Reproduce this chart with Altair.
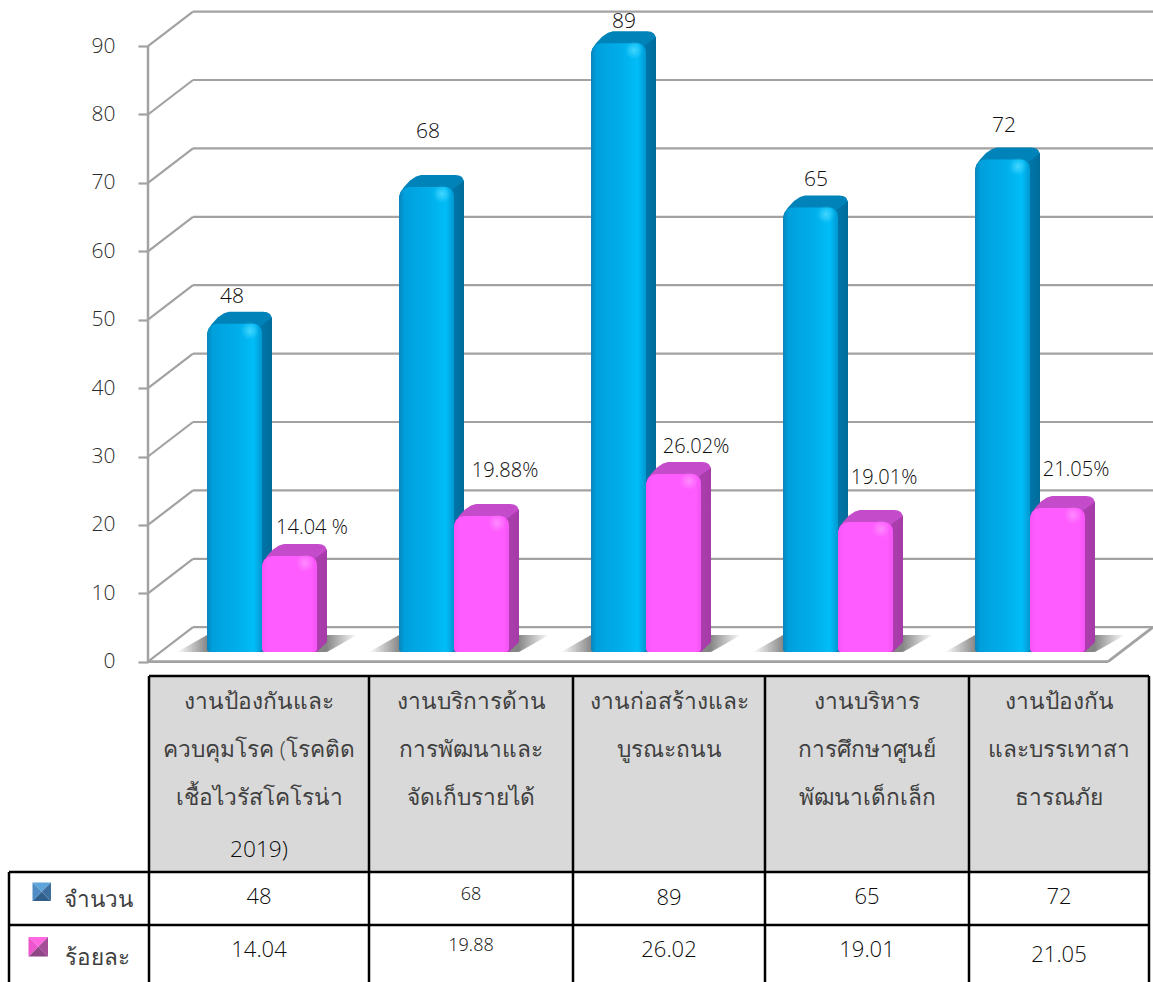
import altair as alt
import pandas as pd

# ---- values -------------------------------------------------------------
header_lines = [
    ["งานป้องกันและ", "ควบคุมโรค (โรคติด", "เชื้อไวรัสโคโรน่า", "2019)"],
    ["งานบริการด้าน", "การพัฒนาและ", "จัดเก็บรายได้"],
    ["งานก่อสร้างและ", "บูรณะถนน"],
    ["งานบริหาร", "การศึกษาศูนย์", "พัฒนาเด็กเล็ก"],
    ["งานป้องกัน", "และบรรเทาสา", "ธารณภัย"],
]
series_names = ["จำนวน", "ร้อยละ"]
counts = [48, 68, 89, 65, 72]
percents = [14.04, 19.88, 26.02, 19.01, 21.05]
count_labels = ["48", "68", "89", "65", "72"]
percent_labels = ["14.04 %", "19.88%", "26.02%", "19.01%", "21.05%"]
percent_cells = ["14.04", "19.88", "26.02", "19.01", "21.05"]
axis_ticks = [0, 10, 20, 30, 40, 50, 60, 70, 80, 90]

# ---- layout -------------------------------------------------------------
W, H = 1153, 982
SLOT_PX = 192        # width of one category on the floor
UNIT_PX = 6.84       # pixels per value unit
AXIS_X = 148
ZERO_Y = 661.7
FONT = "Open Sans"
WEIGHT = 300
GRID = "#a2a2a2"
THAI_INK = "#404040"
DIGIT_INK = "#0c0c0c"


def ux(px):
    return px / SLOT_PX


def uy(px):
    return px / UNIT_PX


x_scale = alt.Scale(domain=[ux(-AXIS_X), ux(W - AXIS_X)], nice=False, zero=False)
y_scale = alt.Scale(domain=[uy(ZERO_Y - H), uy(ZERO_Y)], nice=False, zero=False)
tx_scale = alt.Scale(domain=[0, W], nice=False, zero=False)
ty_scale = alt.Scale(domain=[H, 0], nice=False, zero=False)

WALL_DX, WALL_DY = ux(45), uy(34.5)
BASE = uy(9.7)
BAR_W = 55
BAR_D = 10

X = lambda f, **k: alt.X(f, type="quantitative", scale=x_scale, axis=None, **k)
Y = lambda f, **k: alt.Y(f, type="quantitative", scale=y_scale, axis=None, **k)
TX = lambda f: alt.X(f, type="quantitative", scale=tx_scale, axis=None)
TY = lambda f: alt.Y(f, type="quantitative", scale=ty_scale, axis=None)


def h_gradient(stops):
    return alt.Gradient(
        gradient="linear", x1=0, x2=1, y1=0, y2=0,
        stops=[alt.GradientStop(offset=o, color=c) for o, c in stops],
    )


def glow(color):
    return alt.Gradient(
        gradient="radial", x1=0.5, y1=0.5, x2=0.5, y2=0.5, r1=0, r2=0.5,
        stops=[
            alt.GradientStop(offset=0, color=f"rgba({color},0.95)"),
            alt.GradientStop(offset=1, color=f"rgba({color},0)"),
        ],
    )


# ---- wall, floor and axis ----------------------------------------------
back_lines = pd.DataFrame({
    "x": [WALL_DX] * len(axis_ticks),
    "x2": [ux(W - AXIS_X)] * len(axis_ticks),
    "y": [v + WALL_DY for v in axis_ticks],
})
slants = pd.DataFrame({
    "x": [0.0] * len(axis_ticks),
    "x2": [WALL_DX] * len(axis_ticks),
    "y": [float(v) for v in axis_ticks],
    "y2": [v + WALL_DY for v in axis_ticks],
})
floor_edges = pd.DataFrame({
    "x": [0.0, 5.0],
    "x2": [5.0, 5.0 + WALL_DX],
    "y": [0.0, 0.0],
    "y2": [0.0, WALL_DY],
})

back_layer = alt.Chart(back_lines).mark_rule(color=GRID, strokeWidth=2.2).encode(
    x=X("x:Q"), x2="x2:Q", y=Y("y:Q"))
slant_layer = alt.Chart(slants).mark_rule(color=GRID, strokeWidth=2.2).encode(
    x=X("x:Q"), x2="x2:Q", y=Y("y:Q"), y2="y2:Q")
floor_layer = alt.Chart(floor_edges).mark_rule(color=GRID, strokeWidth=2.8).encode(
    x=X("x:Q"), x2="x2:Q", y=Y("y:Q"), y2="y2:Q")

axis_layer = alt.Chart(pd.DataFrame({"lo": [0], "hi": [90], "x": [0.0]})).mark_rule(
    color=GRID, strokeWidth=2.5
).encode(
    x=X("x:Q"),
    y=alt.Y(
        "lo:Q", scale=y_scale, title=None,
        axis=alt.Axis(
            values=axis_ticks, offset=-AXIS_X, domain=False, grid=False,
            tickColor=GRID, tickWidth=2.2, tickSize=10, labelPadding=23,
            labelFont=FONT, labelFontWeight=WEIGHT, labelFontSize=21, labelColor="#2c2c2c",
        ),
    ),
    y2="hi:Q",
)

# ---- floor shadows ------------------------------------------------------
rows = []
for i in range(len(counts)):
    x0 = i + ux(29)
    for px, up in [(0, 0), (30, 17), (150, 17), (180, 17)]:
        low = 0 if px < 180 else 17
        rows.append({"g": i, "x": x0 + ux(px), "lo": BASE + uy(low), "hi": BASE + uy(up)})
shadow_layer = alt.Chart(pd.DataFrame(rows)).mark_area(
    color=h_gradient([(0, "#ffffff"), (0.17, "#858585"), (0.83, "#858585"), (1, "#ffffff")])
).encode(x=X("x:Q"), y=Y("lo:Q"), y2="hi:Q", detail="g:N")


# ---- bars ----------------------------------------------------------------
def bar_layers(values, offset_px, cap, side, face, glow_rgb):
    left = [i + ux(offset_px) for i in range(len(values))]
    cap_outline = [(0, -11), (1.5, -5), (5, 0), (11, 6.5), (17, 10.5), (22, 12),
                   (56, 12), (60, 11.4), (63, 9.8), (65, 6)]
    cap_rows, side_rows, face_rows, glow_rows = [], [], [], []
    for i, (x0, v) in enumerate(zip(left, values)):
        top = v + BASE
        for px, up in cap_outline:
            cap_rows.append({"g": i, "x": x0 + ux(px), "lo": top - uy(11), "hi": top + uy(up)})
        side_rows.append({"g": i, "x": x0 + ux(BAR_W - 4), "lo": BASE, "hi": top - uy(4)})
        side_rows.append({"g": i, "x": x0 + ux(BAR_W), "lo": BASE, "hi": top - uy(1)})
        side_rows.append({"g": i, "x": x0 + ux(BAR_W + BAR_D), "lo": BASE + uy(BAR_D), "hi": top + uy(6)})
        face_rows.append({"x": x0, "x2": x0 + ux(BAR_W), "y": BASE, "y2": top})
        glow_rows.append({"x": x0 + ux(34), "x2": x0 + ux(52), "y": top - uy(16), "y2": top + uy(2)})
    return [
        alt.Chart(pd.DataFrame(cap_rows)).mark_area(color=cap).encode(
            x=X("x:Q"), y=Y("lo:Q"), y2="hi:Q", detail="g:N"),
        alt.Chart(pd.DataFrame(side_rows)).mark_area(color=h_gradient(side)).encode(
            x=X("x:Q"), y=Y("lo:Q"), y2="hi:Q", detail="g:N"),
        alt.Chart(pd.DataFrame(face_rows)).mark_rect(
            color=h_gradient(face), cornerRadiusTopLeft=11, cornerRadiusTopRight=9,
            cornerRadiusBottomLeft=3, cornerRadiusBottomRight=3,
        ).encode(x=X("x:Q"), x2="x2:Q", y=Y("y:Q"), y2="y2:Q"),
        alt.Chart(pd.DataFrame(glow_rows)).mark_rect(color=glow(glow_rgb)).encode(
            x=X("x:Q"), x2="x2:Q", y=Y("y:Q"), y2="y2:Q"),
    ]


blue_layers = bar_layers(
    counts, 59, "#0083b8",
    [(0, "#0079ad"), (1, "#006c9b")],
    [(0, "#0a84bb"), (0.1, "#00a0dc"), (0.55, "#00aeea"), (0.85, "#00bdf7"), (1, "#0098d2")],
    "70,215,255",
)
pink_layers = bar_layers(
    percents, 114, "#c44ccb",
    [(0, "#ad3fb0"), (1, "#a53ba8")],
    [(0, "#f652f6"), (0.1, "#ff5cff"), (0.9, "#ff5cff"), (1, "#f455f4")],
    "255,140,255",
)

# ---- value labels above the bars ----------------------------------------
count_lift = [36, 64.6, 31, 37, 43]
count_dx = [84, 88, 92, 92, 88]
pct_lift = [37.7, 54.7, 36.7, 53.7, 47.7]
pct_dx = [164, 165, 164, 160, 160]
label_rows = []
for i in range(len(counts)):
    label_rows.append({"x": i + ux(count_dx[i]), "y": counts[i] + uy(count_lift[i]),
                       "t": count_labels[i], "s": 21})
    label_rows.append({"x": i + ux(pct_dx[i]), "y": percents[i] + uy(pct_lift[i]),
                       "t": percent_labels[i], "s": 20})
labels = pd.DataFrame(label_rows)
label_layer = alt.Chart(labels).mark_text(
    font=FONT, fontWeight=WEIGHT, color=DIGIT_INK, baseline="middle", align="center"
).encode(x=X("x:Q"), y=Y("y:Q"), text="t:N", size=alt.Size("s:Q", scale=None, legend=None))

# ---- table beneath the plot ---------------------------------------------
col_edges = [149, 369, 573, 765, 969, 1149]
row_edges = [676, 872, 925]
table_bottom = 982
row_head_x = 9

head_fill = alt.Chart(pd.DataFrame({
    "x": [col_edges[0]], "x2": [col_edges[-1]], "y": [row_edges[0]], "y2": [row_edges[1]],
})).mark_rect(color="#d9d9d9").encode(x=TX("x:Q"), x2="x2:Q", y=TY("y:Q"), y2="y2:Q")

v_rows = [{"x": c, "y": row_edges[0], "y2": table_bottom} for c in col_edges]
v_rows.append({"x": row_head_x, "y": row_edges[1], "y2": table_bottom})
h_rows = [{"x": col_edges[0], "x2": col_edges[-1], "y": row_edges[0]}]
h_rows += [{"x": row_head_x, "x2": col_edges[-1], "y": r} for r in row_edges[1:]]
v_lines = alt.Chart(pd.DataFrame(v_rows)).mark_rule(color="#000000", strokeWidth=2.5).encode(
    x=TX("x:Q"), y=TY("y:Q"), y2="y2:Q")
h_lines = alt.Chart(pd.DataFrame(h_rows)).mark_rule(color="#000000", strokeWidth=2.5).encode(
    x=TX("x:Q"), x2="x2:Q", y=TY("y:Q"))

line_y = [702, 750, 798, 850]
col_centers = [(a + b) / 2 for a, b in zip(col_edges, col_edges[1:])]
text_rows = []
for c, lines in zip(col_centers, header_lines):
    for n, line in enumerate(lines):
        ink = DIGIT_INK if line == "2019)" else THAI_INK
        text_rows.append({"x": c, "y": line_y[n], "t": line, "s": 22.7, "c": ink})
count_y = [897, 895, 898, 897, 897]
count_size = [22, 18, 22, 22, 22]
pct_y = [950, 946, 950, 950, 955]
pct_size = [22, 18, 22, 22, 22]
for i, c in enumerate(col_centers):
    text_rows.append({"x": c, "y": count_y[i], "t": count_labels[i], "s": count_size[i], "c": DIGIT_INK})
    text_rows.append({"x": c, "y": pct_y[i], "t": percent_cells[i], "s": pct_size[i], "c": DIGIT_INK})
text_rows.append({"x": 98, "y": 900, "t": series_names[0], "s": 22.5, "c": THAI_INK})
text_rows.append({"x": 97, "y": 958, "t": series_names[1], "s": 22.5, "c": THAI_INK})
table_text = alt.Chart(pd.DataFrame(text_rows)).mark_text(
    font=FONT, fontWeight=WEIGHT, baseline="middle", align="center"
).encode(
    x=TX("x:Q"), y=TY("y:Q"), text="t:N",
    size=alt.Size("s:Q", scale=None, legend=None),
    color=alt.Color("c:N", scale=None, legend=None),
)


# legend keys: small pyramids seen from above
def pyramid(g, x0, y0, s, top, left, right, bottom):
    m = s / 2
    out = []
    out += [{"g": f"{g}t", "c": top, "x": x0, "a": y0, "b": y0},
            {"g": f"{g}t", "c": top, "x": x0 + m, "a": y0, "b": y0 + m},
            {"g": f"{g}t", "c": top, "x": x0 + s, "a": y0, "b": y0}]
    out += [{"g": f"{g}b", "c": bottom, "x": x0, "a": y0 + s, "b": y0 + s},
            {"g": f"{g}b", "c": bottom, "x": x0 + m, "a": y0 + m, "b": y0 + s},
            {"g": f"{g}b", "c": bottom, "x": x0 + s, "a": y0 + s, "b": y0 + s}]
    out += [{"g": f"{g}l", "c": left, "x": x0, "a": y0, "b": y0 + s},
            {"g": f"{g}l", "c": left, "x": x0 + m, "a": y0 + m, "b": y0 + m}]
    out += [{"g": f"{g}r", "c": right, "x": x0 + m, "a": y0 + m, "b": y0 + m},
            {"g": f"{g}r", "c": right, "x": x0 + s, "a": y0, "b": y0 + s}]
    return out


key_rows = pyramid("a", 32.5, 882.5, 18.5, "#5fa5dc", "#4f8cc4", "#3c6e9e", "#2f5f8a")
key_rows += pyramid("b", 28.5, 937, 19.5, "#ff66e0", "#ec55cc", "#a64d98", "#8e4684")
key_layer = alt.Chart(pd.DataFrame(key_rows)).mark_area().encode(
    x=TX("x:Q"), y=TY("a:Q"), y2="b:Q", detail="g:N",
    color=alt.Color("c:N", scale=None, legend=None),
)

# ---- assembly -----------------------------------------------------------
chart = alt.layer(
    back_layer, slant_layer, floor_layer, axis_layer, shadow_layer,
    *blue_layers, *pink_layers, label_layer,
    head_fill, v_lines, h_lines, table_text, key_layer,
).resolve_scale(x="independent", y="independent", size="independent", color="independent").properties(
    width=W, height=H, padding=0,
    autosize=alt.AutoSizeParams(type="none"),
    background="#ffffff",
).configure_view(stroke=None)

chart.save("out.html", embed_options={"renderer": "svg", "actions": False})
